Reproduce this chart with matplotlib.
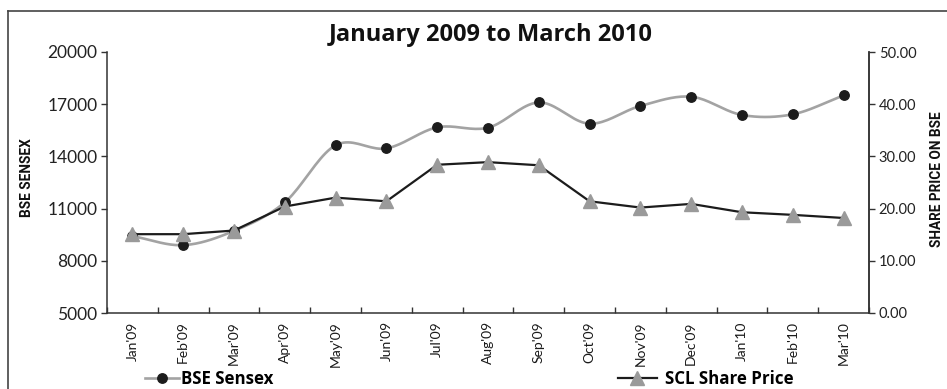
import numpy as np
import matplotlib
matplotlib.use("Agg")
import matplotlib.pyplot as plt
from matplotlib.lines import Line2D
from matplotlib.ticker import FuncFormatter

plt.rcParams['font.family'] = ['Lato', 'DejaVu Sans']

months = ["Jan'09", "Feb'09", "Mar'09", "Apr'09", "May'09", "Jun'09", "Jul'09",
          "Aug'09", "Sep'09", "Oct'09", "Nov'09", "Dec'09", "Jan'10", "Feb'10", "Mar'10"]
bse_sensex = [9420, 8900, 9720, 11360, 14640, 14460, 15670, 15650, 17100,
              15880, 16900, 17430, 16380, 16420, 17510]
scl_price = [15.1, 15.1, 15.8, 20.4, 22.1, 21.4, 28.4, 28.9, 28.3,
             21.4, 20.2, 20.9, 19.3, 18.8, 18.2]

title = "January 2009 to March 2010"
left_label = "BSE SENSEX"
right_label = "SHARE PRICE ON BSE"

GRAY = '#a3a3a3'
TRI = '#9a9a9a'
BLACK = '#1c1c1c'
BOLDFONT = ['Open Sans', 'DejaVu Sans']
LABELFONT = ['Roboto', 'DejaVu Sans']

W, H = 947, 389
fig = plt.figure(figsize=(W / 100, H / 100), dpi=100)
ax = fig.add_axes([107 / W, 1 - 313 / H, (869 - 107) / W, (313 - 52) / H])
ax2 = ax.twinx()

x = np.arange(len(months))


def catmull_rom(xs, ys, n=20):
    xs = np.asarray(xs, float)
    ys = np.asarray(ys, float)
    px = np.concatenate([[2 * xs[0] - xs[1]], xs, [2 * xs[-1] - xs[-2]]])
    py = np.concatenate([[2 * ys[0] - ys[1]], ys, [2 * ys[-1] - ys[-2]]])
    outx, outy = [], []
    t = np.linspace(0, 1, n, endpoint=False)
    for i in range(1, len(px) - 2):
        for arr, p in ((outx, px), (outy, py)):
            a0, a1, a2, a3 = p[i - 1], p[i], p[i + 1], p[i + 2]
            v = 0.5 * ((2 * a1) + (-a0 + a2) * t + (2 * a0 - 5 * a1 + 4 * a2 - a3) * t ** 2
                       + (-a0 + 3 * a1 - 3 * a2 + a3) * t ** 3)
            arr.extend(v)
    outx.append(xs[-1])
    outy.append(ys[-1])
    return np.array(outx), np.array(outy)


sx, sy = catmull_rom(x, bse_sensex)
ax.plot(sx, sy, color=GRAY, lw=1.9, zorder=2)
ax.plot(x, bse_sensex, linestyle='none', marker='o', ms=6.8, color=BLACK, zorder=3)

ax2.plot(x, scl_price, color=BLACK, lw=1.6, marker='^', ms=10.5,
         markerfacecolor=TRI, markeredgecolor=TRI, zorder=3)

ax.set_xlim(-0.5, len(months) - 0.5)
ax.set_ylim(5000, 20000)
ax.set_yticks(np.arange(5000, 20001, 3000))
ax2.set_ylim(0, 50)
ax2.set_yticks(np.arange(0, 51, 10))
ax2.yaxis.set_major_formatter(FuncFormatter(lambda v, p: f"{v:.2f}"))

ax.set_xticks(x)
ax.set_xticklabels(months, rotation=90, fontsize=10, color='#1a1a1a')
ax.set_xticks(np.arange(-0.5, len(months), 1), minor=True)
ax.tick_params(axis='x', which='major', length=0, pad=6)
ax.tick_params(axis='x', which='minor', length=4, direction='in', width=1, color='#333333')
ax.tick_params(axis='y', length=4, width=1, labelsize=12.5, color='#333333', labelcolor='#222222', pad=3)
ax2.tick_params(axis='y', length=4, width=1, labelsize=10.5, color='#333333', labelcolor='#222222', pad=3)

for a in (ax, ax2):
    a.spines['top'].set_visible(False)
    for s in ('left', 'right', 'bottom'):
        a.spines[s].set_color('#333333')
        a.spines[s].set_linewidth(1.1)
ax2.spines['left'].set_visible(False)
ax2.spines['bottom'].set_visible(False)

fig.text(491 / W, 1 - 35 / H, title, ha='center', va='center', fontsize=17, fontweight='bold',
         color='#111111', family=BOLDFONT)
fig.text(27 / W, 1 - 178 / H, left_label, rotation=90, ha='center', va='center', fontsize=9.8,
         fontweight='bold', color='#111111', family=LABELFONT)
fig.text(937 / W, 1 - 179 / H, right_label, rotation=90, ha='center', va='center', fontsize=9.8,
         fontweight='bold', color='#111111', family=LABELFONT)

h1 = Line2D([], [], color=GRAY, lw=1.9, marker='o', ms=6.8, markerfacecolor=BLACK, markeredgecolor=BLACK)
h2 = Line2D([], [], color=BLACK, lw=1.6, marker='^', ms=10.5, markerfacecolor=TRI, markeredgecolor=TRI)
fig.legend([h1], ["BSE Sensex"], loc='center left', bbox_to_anchor=(145 / W, 1 - 379 / H), frameon=False,
           handlelength=2.0, handletextpad=0.15, borderpad=0, borderaxespad=0,
           prop={'size': 12.2, 'weight': 'bold', 'family': BOLDFONT})
fig.legend([h2], ["SCL Share Price"], loc='center left', bbox_to_anchor=(618 / W, 1 - 379 / H), frameon=False,
           handlelength=2.3, handletextpad=0.5, borderpad=0, borderaxespad=0,
           prop={'size': 12.2, 'weight': 'bold', 'family': BOLDFONT})

# outer frame: top and left edges only
fig.add_artist(Line2D([8 / W, 8 / W], [0, 1 - 11 / H], transform=fig.transFigure, color='#444444', lw=1.2))
fig.add_artist(Line2D([8 / W, 1], [1 - 11 / H, 1 - 11 / H], transform=fig.transFigure, color='#444444', lw=1.2))

fig.savefig('out.png', dpi=100)
